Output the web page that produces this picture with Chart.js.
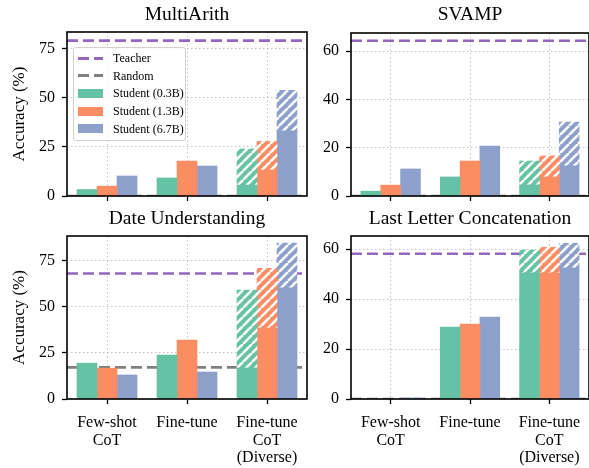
<!DOCTYPE html>
<html lang="en">
<head>
  <meta charset="UTF-8" />
  <title>Student accuracy by method</title>
  <script src="https://cdn.jsdelivr.net/npm/chart.js"></script>
  <style>
    html, body {
      margin: 0;
      padding: 0;
      background: #fff;
      overflow: hidden;
    }
    #wrap {
      position: relative;
      width: 589px;
      height: 468px;
      overflow: hidden;
      font-family: 'Liberation Serif', serif;
    }
    #wrap canvas {
      position: absolute;
    }
    .legend {
      position: absolute;
      left: 73px;
      top: 47px;
      width: 113px;
      height: 94px;
      border: 1px solid #d0d0d0;
      border-radius: 3px;
      background: rgba(255, 255, 255, 0.8);
      box-sizing: border-box;
      font-size: 12px;
      color: #000;
    }
    .legend .row {
      position: absolute;
      left: 0;
      height: 18px;
      line-height: 18px;
    }
    .legend .swatch {
      position: absolute;
      left: 4px;
      width: 25px;
    }
    .legend .text {
      position: absolute;
      left: 39px;
      white-space: nowrap;
    }
  </style>
</head>
<body>
  <div id="wrap">
    <canvas id="c0" width="309" height="215" style="left:0;top:0"></canvas>
    <canvas id="c1" width="299" height="215" style="left:290px;top:0"></canvas>
    <canvas id="c2" width="309" height="268" style="left:0;top:200px"></canvas>
    <canvas id="c3" width="299" height="268" style="left:290px;top:200px"></canvas>
    <div class="legend" id="legend"></div>
  </div>

  <script>
    // x categories
    const methods = [['Few-shot', 'CoT'], 'Fine-tune', ['Fine-tune', 'CoT', '(Diverse)']];
    const students = ['Student (0.3B)', 'Student (1.3B)', 'Student (6.7B)'];

    // accuracy per method (few-shot, fine-tune, fine-tune CoT greedy) for each student
    const multiArith03 = [3.3, 9.2, 5.6];
    const multiArith13 = [5.0, 17.8, 13.3];
    const multiArith67 = [10.2, 15.3, 33.2];
    const multiArithDiverse = [24.0, 27.8, 53.9];   // top of the hatched part, per student
    const multiArithTeacher = 79.2;
    const multiArithRandom = 0;

    const svamp03 = [2.0, 7.9, 4.6];
    const svamp13 = [4.5, 14.5, 7.9];
    const svamp67 = [11.2, 20.7, 12.5];
    const svampDiverse = [14.5, 16.6, 30.6];
    const svampTeacher = 64.3;
    const svampRandom = 0;

    const date03 = [19.4, 23.8, 16.8];
    const date13 = [16.7, 31.9, 38.5];
    const date67 = [13.0, 14.6, 60.1];
    const dateDiverse = [59.0, 70.7, 84.4];
    const dateTeacher = 67.9;
    const dateRandom = 17.1;

    const letter03 = [0.0, 28.8, 50.5];
    const letter13 = [0.0, 30.0, 50.5];
    const letter67 = [0.4, 32.8, 52.5];
    const letterDiverse = [59.6, 60.7, 62.3];
    const letterTeacher = 58.1;
    const letterRandom = 0;

    const colors = ['#66c2a5', '#fc8d62', '#8da0cb'];
    const teacherColor = '#9467bd';
    const randomColor = '#808080';
    const FONT = 'Liberation Serif';
    const barWidth = 0.25;   // in category units, like matplotlib's width=0.25

    function hatch(color) {
      const s = 9;
      const c = document.createElement('canvas');
      c.width = s; c.height = s;
      const g = c.getContext('2d');
      g.fillStyle = color;
      g.fillRect(0, 0, s, s);
      g.strokeStyle = '#fff';
      g.lineWidth = 2.6;
      g.beginPath();
      for (const o of [-s, 0, s]) {
        g.moveTo(o, s); g.lineTo(o + s, 0);
      }
      g.stroke();
      return g.createPattern(c, 'repeat');
    }

    // axes frame + title centred over the plot area
    const framePlugin = {
      id: 'frame',
      afterDraw(chart, args, opts) {
        const a = chart.chartArea, ctx = chart.ctx;
        ctx.save();
        ctx.strokeStyle = '#000';
        ctx.lineWidth = 1.6;
        ctx.strokeRect(a.left, a.top, a.right - a.left, a.bottom - a.top);
        ctx.fillStyle = '#000';
        ctx.font = '19.5px "' + FONT + '"';
        ctx.textAlign = 'center';
        ctx.textBaseline = 'alphabetic';
        ctx.fillText(opts.text, (a.left + a.right) / 2, opts.baseline);
        ctx.restore();
      }
    };

    function panel(id, p) {
      const datasets = [];
      p.base.forEach((vals, i) => {
        const dx = (i - 1) * barWidth;
        datasets.push({
          type: 'bar', label: students[i],
          data: vals.map((v, j) => ({ x: j + dx, y: v })),
          backgroundColor: colors[i]
        });
        datasets.push({
          type: 'bar', label: students[i] + ' (diverse)',
          data: [{ x: 2 + dx, y: [vals[2], p.diverse[i]] }],
          backgroundColor: hatch(colors[i])
        });
      });
      [[p.random, randomColor, 'Random'], [p.teacher, teacherColor, 'Teacher']].forEach(([v, col, name]) => {
        datasets.push({
          type: 'line', label: name,
          data: [{ x: -0.5, y: v }, { x: 2.5, y: v }],
          borderColor: col, borderWidth: 2.6, borderDash: [11, 5],
          pointRadius: 0
        });
      });

      return new Chart(document.getElementById(id), {
        type: 'bar',
        data: { datasets },
        plugins: [framePlugin],
        options: {
          responsive: false,
          animation: false,
          devicePixelRatio: 1,
          datasets: {
            bar: { grouped: false, barPercentage: 1, categoryPercentage: 1, borderWidth: 0 }
          },
          layout: { padding: { left: 0, right: p.padRight, top: p.top, bottom: 0 } },
          plugins: {
            legend: { display: false },
            tooltip: { enabled: false },
            title: { display: false },
            frame: { text: p.title, baseline: p.titleBase }
          },
          scales: {
            x: {
              type: 'linear', min: -0.5, max: 2.5, offset: false,
              afterBuildTicks(s) { s.ticks = methods.map((_, i) => ({ value: i })); },
              grid: {
                offset: false, color: 'rgba(170,170,170,0.8)', lineWidth: 0.9,
                tickColor: '#000', tickWidth: 1.3, tickLength: 5, tickBorderDash: []
              },
              border: { display: false, dash: [1.5, 2.5] },
              ticks: {
                color: '#000', padding: 10, maxRotation: 0, autoSkip: false,
                font: { family: FONT, size: 16, lineHeight: 1.1 },
                callback: (v) => (p.showX ? methods[v] : '')
              },
              afterFit(s) {
                s.height = p.xHeight;
                s.paddingLeft = 0;
                s.paddingRight = 0;
              }
            },
            y: {
              min: 0, max: p.max,
              grid: {
                color: 'rgba(170,170,170,0.8)', lineWidth: 0.9,
                tickColor: '#000', tickWidth: 1.3, tickLength: 5, tickBorderDash: []
              },
              border: { display: false, dash: [1.5, 2.5] },
              ticks: {
                stepSize: p.step, includeBounds: false, color: '#000', padding: 7,
                font: { family: FONT, size: 16 }
              },
              title: {
                display: p.yTitle, text: 'Accuracy (%)', color: '#000',
                font: { family: FONT, size: 17 }, padding: { top: 9, bottom: 0 }
              },
              afterFit(s) { s.width = p.yWidth; }
            }
          }
        }
      });
    }

    panel('c0', {
      title: 'MultiArith', base: [multiArith03, multiArith13, multiArith67], diverse: multiArithDiverse,
      teacher: multiArithTeacher, random: multiArithRandom, max: 83.6, step: 25,
      yWidth: 67, padRight: 2, top: 32, titleBase: 20, xHeight: 19, showX: false, yTitle: true
    });
    // the right-hand panels run slightly past the picture's edge, as in the original crop
    panel('c1', {
      title: 'SVAMP', base: [svamp03, svamp13, svamp67], diverse: svampDiverse,
      teacher: svampTeacher, random: svampRandom, max: 67.5, step: 20,
      yWidth: 61, padRight: -2, top: 33, titleBase: 20, xHeight: 19, showX: false, yTitle: false
    });
    panel('c2', {
      title: 'Date Understanding', base: [date03, date13, date67], diverse: dateDiverse,
      teacher: dateTeacher, random: dateRandom, max: 88.2, step: 25,
      yWidth: 67, padRight: 2, top: 36, titleBase: 23.5, xHeight: 69, showX: true, yTitle: true
    });
    panel('c3', {
      title: 'Last Letter Concatenation', base: [letter03, letter13, letter67], diverse: letterDiverse,
      teacher: letterTeacher, random: letterRandom, max: 65.2, step: 20,
      yWidth: 61, padRight: -2, top: 36, titleBase: 23.5, xHeight: 69, showX: true, yTitle: false
    });

    // legend (drawn once, inside the MultiArith panel)
    const legend = document.getElementById('legend');
    const entries = [
      ['Teacher', 'line', teacherColor],
      ['Random', 'line', randomColor],
      [students[0], 'patch', colors[0]],
      [students[1], 'patch', colors[1]],
      [students[2], 'patch', colors[2]]
    ];
    entries.forEach(([name, kind, col], i) => {
      const row = document.createElement('div');
      row.className = 'row';
      row.style.top = (1 + i * 17.7) + 'px';
      const sw = document.createElement('div');
      sw.className = 'swatch';
      if (kind === 'line') {
        sw.style.top = '7.5px';
        sw.style.height = '3px';
        sw.style.background = `repeating-linear-gradient(90deg, ${col} 0 11px, transparent 11px 16px)`;
      } else {
        sw.style.top = '4.5px';
        sw.style.height = '9px';
        sw.style.background = col;
      }
      const tx = document.createElement('div');
      tx.className = 'text';
      tx.textContent = name;
      row.appendChild(sw);
      row.appendChild(tx);
      legend.appendChild(row);
    });
  </script>
</body>
</html>
